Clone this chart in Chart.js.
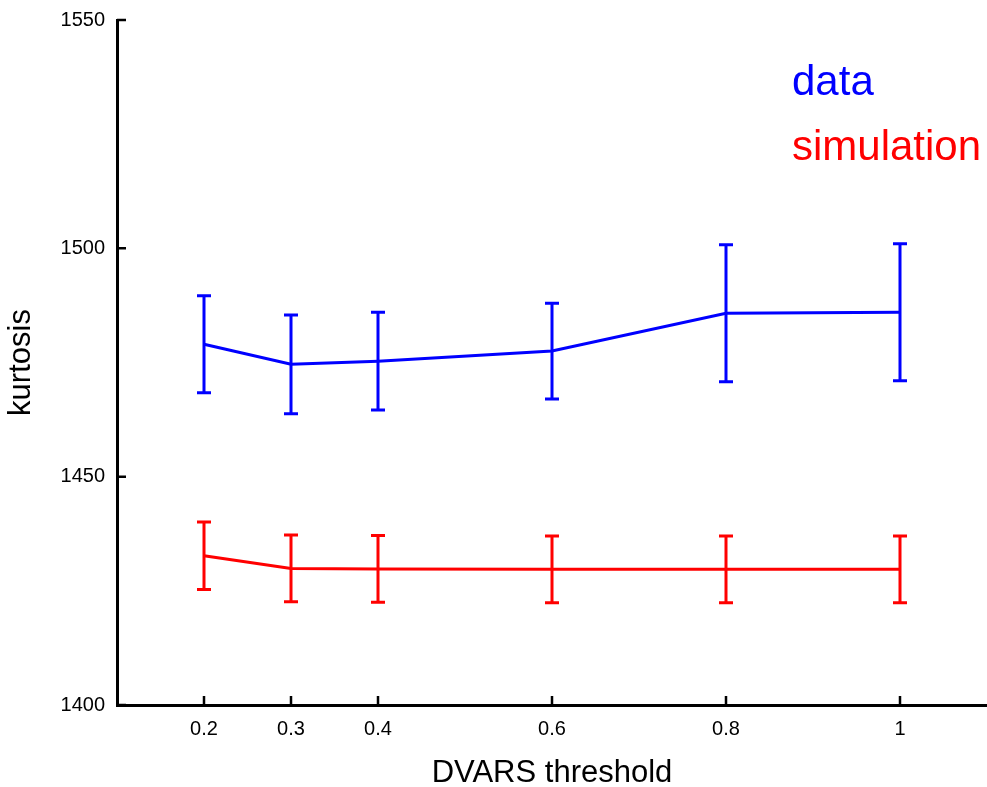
<!DOCTYPE html>
<html>
<head>
<meta charset="utf-8">
<title>kurtosis vs DVARS threshold</title>
<script src="https://cdn.jsdelivr.net/npm/chart.js@4.4.1/dist/chart.umd.min.js"></script>
<style>
  html, body { margin: 0; padding: 0; background: #fff; }
  canvas { display: block; }
</style>
</head>
<body>
<canvas id="kurtosisChart" width="987" height="787"></canvas>
<script>
// DVARS thresholds and kurtosis (mean +/- error)
const thresholds = [0.2, 0.3, 0.4, 0.6, 0.8, 1];
const dataMean = [1479.0, 1474.6, 1475.3, 1477.5, 1485.8, 1486.0];
const dataErr = [10.6, 10.8, 10.7, 10.5, 15.0, 15.0];
const simMean = [1432.7, 1429.9, 1429.8, 1429.7, 1429.7, 1429.7];
const simErr = [7.4, 7.3, 7.3, 7.3, 7.3, 7.3];
const yTicks = [1400, 1450, 1500, 1550];

const FONT = '"Liberation Sans", Arial, Helvetica, sans-serif';

const toPoints = (xs, ys) => xs.map((x, i) => ({x: x, y: ys[i]}));

// vertical error bars with caps, drawn through the scales
const errorBars = {
    id: 'errorBars',
    afterDatasetsDraw(chart) {
        const ctx = chart.ctx;
        const xs = chart.scales.x, ys = chart.scales.y;
        chart.data.datasets.forEach(ds => {
            ctx.save();
            ctx.strokeStyle = ds.borderColor;
            ctx.lineWidth = 3;
            ds.data.forEach((p, i) => {
                const px = xs.getPixelForValue(p.x);
                const top = ys.getPixelForValue(p.y + ds.errors[i]);
                const bot = ys.getPixelForValue(p.y - ds.errors[i]);
                ctx.beginPath();
                ctx.moveTo(px, top);
                ctx.lineTo(px, bot);
                ctx.moveTo(px - 7, top);
                ctx.lineTo(px + 7, top);
                ctx.moveTo(px - 7, bot);
                ctx.lineTo(px + 7, bot);
                ctx.stroke();
            });
            ctx.restore();
        });
    }
};

// tick marks pointing into the plot
const innerTicks = {
    id: 'innerTicks',
    afterDraw(chart) {
        const ctx = chart.ctx;
        const xs = chart.scales.x, ys = chart.scales.y;
        ctx.save();
        ctx.strokeStyle = '#000';
        ctx.lineWidth = 2.5;
        ctx.beginPath();
        xs.ticks.forEach(t => {
            const px = xs.getPixelForValue(t.value);
            ctx.moveTo(px, xs.top);
            ctx.lineTo(px, xs.top - 9);
        });
        ys.ticks.forEach(t => {
            const py = ys.getPixelForValue(t.value);
            ctx.moveTo(ys.right, py);
            ctx.lineTo(ys.right + 9, py);
        });
        ctx.stroke();
        ctx.restore();
    }
};

// coloured text labels in the upper right
const textLegend = {
    id: 'textLegend',
    afterDraw(chart) {
        const ctx = chart.ctx;
        ctx.save();
        ctx.font = '42px ' + FONT;
        ctx.textAlign = 'left';
        ctx.textBaseline = 'alphabetic';
        chart.data.datasets.forEach((ds, i) => {
            ctx.fillStyle = ds.borderColor;
            ctx.fillText(ds.label, 792, 95 + i * 65);
        });
        ctx.restore();
    }
};

const ctx = document.getElementById('kurtosisChart').getContext('2d');

new Chart(ctx, {
    type: 'line',
    data: {
        datasets: [{
            label: 'data',
            data: toPoints(thresholds, dataMean),
            errors: dataErr,
            borderColor: '#0000ff',
            borderWidth: 3,
            pointRadius: 0,
            tension: 0
        }, {
            label: 'simulation',
            data: toPoints(thresholds, simMean),
            errors: simErr,
            borderColor: '#ff0000',
            borderWidth: 3,
            pointRadius: 0,
            tension: 0
        }]
    },
    options: {
        responsive: false,
        animation: false,
        layout: {
            padding: {top: 20, right: 0, bottom: 0, left: 0}
        },
        plugins: {
            legend: {display: false},
            tooltip: {enabled: false}
        },
        scales: {
            x: {
                type: 'linear',
                min: 0.1,
                max: 1.1,
                afterBuildTicks: scale => {
                    scale.ticks = thresholds.map(v => ({value: v}));
                },
                afterFit: scale => {
                    scale.height = 82;
                    scale.paddingLeft = 0;
                    scale.paddingRight = 0;
                },
                grid: {display: false, drawTicks: false},
                border: {display: true, color: '#000', width: 3},
                ticks: {
                    color: '#000',
                    padding: 12,
                    maxRotation: 0,
                    autoSkip: false,
                    callback: v => String(v),
                    font: {family: FONT, size: 20}
                },
                title: {
                    display: true,
                    text: 'DVARS threshold',
                    color: '#000',
                    font: {family: FONT, size: 31, lineHeight: 0.9},
                    padding: {top: 0, bottom: 0}
                }
            },
            y: {
                type: 'linear',
                min: 1400,
                max: 1550,
                afterBuildTicks: scale => {
                    scale.ticks = yTicks.map(v => ({value: v}));
                },
                afterFit: scale => {
                    scale.width = 117;
                    scale.paddingTop = 0;
                    scale.paddingBottom = 0;
                },
                grid: {display: false, drawTicks: false},
                border: {display: true, color: '#000', width: 3},
                ticks: {
                    color: '#000',
                    padding: 12,
                    callback: v => String(v),
                    font: {family: FONT, size: 20}
                },
                title: {
                    display: true,
                    text: 'kurtosis',
                    color: '#000',
                    font: {family: FONT, size: 31, lineHeight: 1.2},
                    padding: {top: 3, bottom: 0}
                }
            }
        }
    },
    plugins: [errorBars, innerTicks, textLegend]
});
</script>
</body>
</html>
